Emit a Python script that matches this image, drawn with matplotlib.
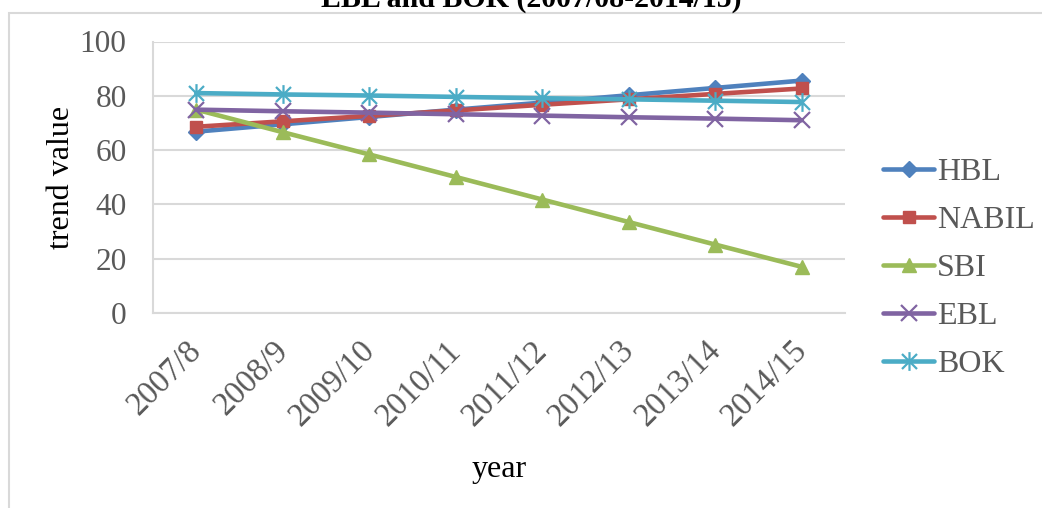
import matplotlib
matplotlib.use("Agg")
import matplotlib.pyplot as plt
import matplotlib.transforms as mtransforms
from matplotlib.path import Path
from matplotlib.patches import Rectangle

plt.rcParams['font.family'] = ['Liberation Serif', 'DejaVu Serif']

years = ["2007/8", "2008/9", "2009/10", "2010/11", "2011/12", "2012/13", "2013/14", "2014/15"]
hbl = [66.8, 69.5, 72.2, 74.9, 77.5, 80.2, 82.9, 85.6]
nabil = [68.6, 70.6, 72.6, 74.6, 76.7, 78.7, 80.7, 82.7]
sbi = [74.9, 66.6, 58.4, 50.1, 41.8, 33.5, 25.2, 17.0]
ebl = [74.9, 74.3, 73.8, 73.2, 72.7, 72.1, 71.6, 71.0]
bok = [81.0, 80.5, 80.1, 79.6, 79.1, 78.7, 78.2, 77.7]
yticks = [0, 20, 40, 60, 80, 100]

# Excel-style asterisk: an x with a vertical bar through it
star = Path([(-1, -1), (1, 1), (-1, 1), (1, -1), (0, -1.25), (0, 1.25)],
            [Path.MOVETO, Path.LINETO, Path.MOVETO, Path.LINETO, Path.MOVETO, Path.LINETO])

series = [
    ("HBL", hbl, "#4F81BD", "D", 8, 1.0),
    ("NABIL", nabil, "#C0504D", "s", 8.5, 1.0),
    ("SBI", sbi, "#9BBB59", "^", 10, 1.0),
    ("EBL", ebl, "#8064A2", "x", 12, 1.6),
    ("BOK", bok, "#4BACC6", star, 13.5, 1.6),
]

fig = plt.figure(figsize=(10.42, 5.08), dpi=100)
ax = fig.add_axes([153 / 1042, 1 - 313 / 508, (845 - 153) / 1042, (313 - 41.5) / 508])

x = list(range(len(years)))
for name, vals, col, mk, ms, mew in series:
    ax.plot(x, vals, color=col, lw=3.3, marker=mk, markersize=ms,
            markeredgewidth=mew, markerfacecolor=col, markeredgecolor=col,
            label=name, solid_capstyle='round', clip_on=False)

ax.set_xlim(-0.5, len(years) - 0.5)
ax.set_ylim(0, 100)
ax.set_yticks(yticks)
ax.set_xticks(x)
ax.set_xticklabels(years, rotation=45, ha='right', va='top', rotation_mode='anchor')
ax.tick_params(axis='y', length=0, labelsize=22.5, colors='#595959', pad=19)
ax.tick_params(axis='x', length=0, labelsize=23.5, colors='#595959', pad=16)
shift = mtransforms.ScaledTranslation(-10 / 100, 0, fig.dpi_scale_trans)
for lbl in ax.get_xticklabels():
    lbl.set_transform(lbl.get_transform() + shift)
ax.grid(axis='y', color='#D9D9D9', lw=1.5)
ax.set_axisbelow(True)
for s in ['top', 'right']:
    ax.spines[s].set_visible(False)
for s in ['left', 'bottom']:
    ax.spines[s].set_color('#D9D9D9')
    ax.spines[s].set_linewidth(1.5)

ax.set_ylabel("trend value", fontsize=23, color='black', labelpad=3)
ax.set_xlabel("year", fontsize=23, color='black', labelpad=16)

leg = fig.legend(loc='upper left', bbox_to_anchor=(883 / 1042, 1 - 158 / 508),
                 frameon=False, fontsize=23, labelcolor='#595959',
                 handlelength=1.6, handletextpad=0.1, labelspacing=0.58,
                 borderaxespad=0, borderpad=0)

# chart area border, only its top and left edges fall inside the image
fig.add_artist(Rectangle((9 / 1042, -0.2), 1.2, 1 - 13 / 508 + 0.2,
                         transform=fig.transFigure, fill=False,
                         edgecolor='#D9D9D9', lw=1.5, clip_on=False))

fig.text(531 / 1042, 1 - 7 / 508, "EBL and BOK (2007/08-2014/15)", ha='center',
         va='baseline', fontsize=21.5, fontweight='bold', color='black')

fig.savefig("out.png", dpi=100)
